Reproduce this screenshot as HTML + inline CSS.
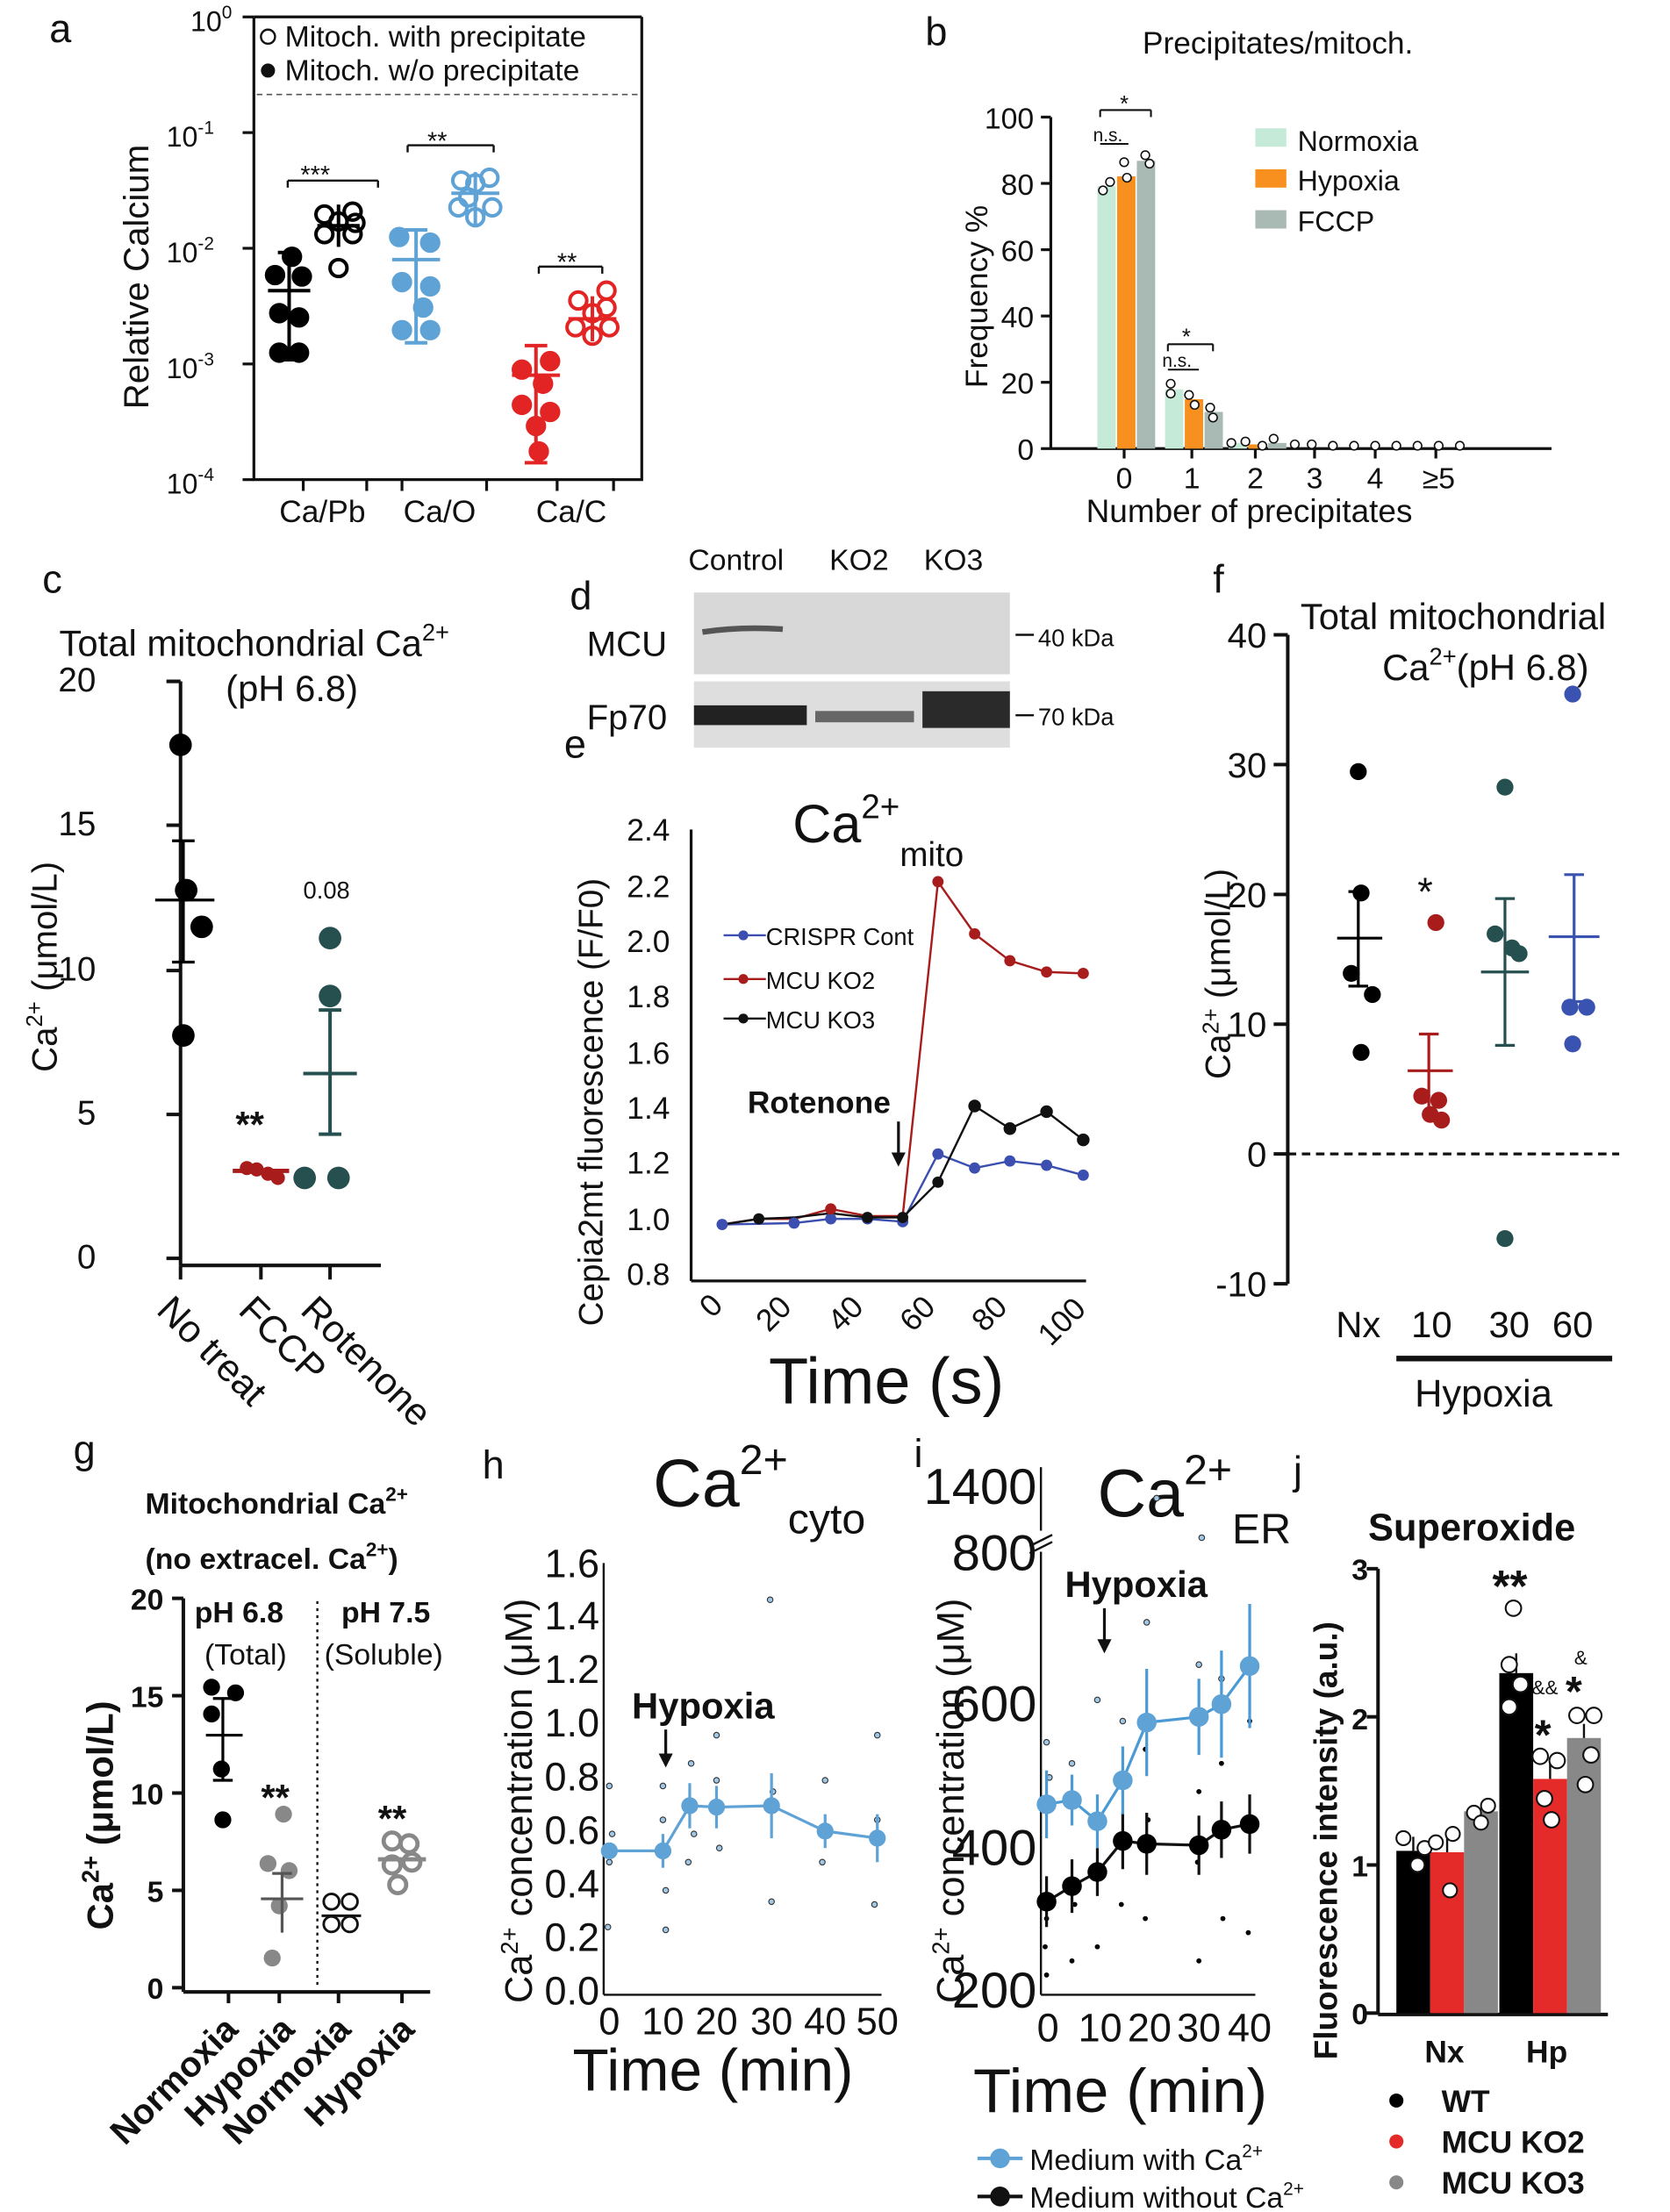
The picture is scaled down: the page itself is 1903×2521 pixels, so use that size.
<!DOCTYPE html>
<html><head><meta charset="utf-8"><style>
html,body{margin:0;padding:0;background:#fff}
svg{display:block}
text{font-family:"Liberation Sans",Arial,sans-serif;fill:#111}
</style></head><body>
<svg width="1903" height="2521" viewBox="0 0 1184 1568" preserveAspectRatio="none" xmlns="http://www.w3.org/2000/svg">
<rect width="1184" height="1568" fill="#fff"/>
<g stroke="#111" stroke-width="2" fill="none">
<!-- panel a -->
<polyline points="180,12 180,340 455,340 455,12"/>
<line x1="180" y1="12" x2="455" y2="12"/>
<line x1="180" y1="94" x2="172" y2="94"/><line x1="180" y1="176" x2="172" y2="176"/><line x1="180" y1="258" x2="172" y2="258"/><line x1="180" y1="340" x2="172" y2="340"/><line x1="180" y1="12" x2="172" y2="12"/>
<line x1="215" y1="340" x2="215" y2="348"/><line x1="260" y1="340" x2="260" y2="348"/><line x1="285" y1="340" x2="285" y2="348"/><line x1="345" y1="340" x2="345" y2="348"/><line x1="395" y1="340" x2="395" y2="348"/><line x1="435" y1="340" x2="435" y2="348"/>
</g>
<line x1="182" y1="67" x2="453" y2="67" stroke="#555" stroke-width="1" stroke-dasharray="4,3"/>
<text x="35" y="30" font-size="28">a</text>
<text x="135" y="22" font-size="20">10<tspan font-size="13" dy="-9">0</tspan></text>
<text x="118" y="104" font-size="20">10<tspan font-size="13" dy="-9">-1</tspan></text>
<text x="118" y="186" font-size="20">10<tspan font-size="13" dy="-9">-2</tspan></text>
<text x="118" y="268" font-size="20">10<tspan font-size="13" dy="-9">-3</tspan></text>
<text x="118" y="350" font-size="20">10<tspan font-size="13" dy="-9">-4</tspan></text>
<text transform="translate(105,290) rotate(-90)" font-size="25">Relative Calcium</text>
<circle cx="190" cy="26" r="5" fill="none" stroke="#111" stroke-width="1.5"/><text x="202" y="33" font-size="21">Mitoch. with precipitate</text>
<circle cx="190" cy="50" r="5" fill="#111"/><text x="202" y="57" font-size="21">Mitoch. w/o precipitate</text>
<text x="198" y="370" font-size="22">Ca/Pb</text><text x="286" y="370" font-size="22">Ca/O</text><text x="380" y="370" font-size="22">Ca/C</text>
<g stroke="#111" stroke-width="1.5"><line x1="204" y1="128" x2="268" y2="128"/><line x1="204" y1="128" x2="204" y2="133"/><line x1="268" y1="128" x2="268" y2="133"/>
<line x1="289" y1="103" x2="350" y2="103"/><line x1="289" y1="103" x2="289" y2="108"/><line x1="350" y1="103" x2="350" y2="108"/>
<line x1="382" y1="189" x2="427" y2="189"/><line x1="382" y1="189" x2="382" y2="194"/><line x1="427" y1="189" x2="427" y2="194"/></g>
<text x="213" y="130" font-size="18">***</text><text x="303" y="106" font-size="18">**</text><text x="395" y="192" font-size="18">**</text>
<!-- a data -->
<g stroke-width="2.5">
<g stroke="#000" fill="#000"><line x1="205" y1="179" x2="205" y2="255"/><line x1="190" y1="206" x2="220" y2="206"/><line x1="197" y1="179" x2="213" y2="179"/><line x1="197" y1="255" x2="213" y2="255"/>
<circle cx="207" cy="182" r="6"/><circle cx="195" cy="195" r="6"/><circle cx="214" cy="196" r="6"/><circle cx="198" cy="222" r="6"/><circle cx="212" cy="225" r="6"/><circle cx="198" cy="250" r="6"/><circle cx="212" cy="250" r="6"/></g>
<g stroke="#000" fill="none"><line x1="240" y1="145" x2="240" y2="175"/><line x1="225" y1="160" x2="255" y2="160"/>
<circle cx="230" cy="152" r="6"/><circle cx="250" cy="150" r="6"/><circle cx="240" cy="157" r="6"/><circle cx="230" cy="166" r="6"/><circle cx="250" cy="166" r="6"/><circle cx="240" cy="190" r="6"/><circle cx="252" cy="158" r="6"/></g>
<g stroke="#5fa3d6" fill="#5fa3d6"><line x1="295" y1="163" x2="295" y2="243"/><line x1="278" y1="184" x2="312" y2="184"/><line x1="287" y1="163" x2="303" y2="163"/><line x1="287" y1="243" x2="303" y2="243"/>
<circle cx="283" cy="168" r="6"/><circle cx="305" cy="172" r="6"/><circle cx="285" cy="200" r="6"/><circle cx="305" cy="203" r="6"/><circle cx="300" cy="218" r="6"/><circle cx="285" cy="234" r="6"/><circle cx="305" cy="234" r="6"/></g>
<g stroke="#5fa3d6" fill="none"><line x1="337" y1="122" x2="337" y2="160"/><line x1="320" y1="137" x2="354" y2="137"/>
<circle cx="327" cy="128" r="6"/><circle cx="347" cy="126" r="6"/><circle cx="337" cy="130" r="6"/><circle cx="325" cy="147" r="6"/><circle cx="349" cy="147" r="6"/><circle cx="337" cy="154" r="6"/><circle cx="332" cy="140" r="6"/></g>
<g stroke="#e32424" fill="#e32424"><line x1="380" y1="245" x2="380" y2="328"/><line x1="363" y1="266" x2="397" y2="266"/><line x1="372" y1="245" x2="388" y2="245"/><line x1="372" y1="328" x2="388" y2="328"/>
<circle cx="370" cy="262" r="6"/><circle cx="390" cy="256" r="6"/><circle cx="385" cy="272" r="6"/><circle cx="370" cy="287" r="6"/><circle cx="390" cy="292" r="6"/><circle cx="380" cy="302" r="6"/><circle cx="382" cy="320" r="6"/></g>
<g stroke="#e32424" fill="none"><line x1="420" y1="210" x2="420" y2="242"/><line x1="403" y1="226" x2="437" y2="226"/>
<circle cx="410" cy="213" r="6"/><circle cx="430" cy="206" r="6"/><circle cx="420" cy="222" r="6"/><circle cx="408" cy="232" r="6"/><circle cx="432" cy="232" r="6"/><circle cx="420" cy="238" r="6"/><circle cx="430" cy="218" r="6"/></g>
</g>
<!-- panel b -->
<text x="656" y="32" font-size="28">b</text>
<text x="810" y="38" font-size="22">Precipitates/mitoch.</text>
<g stroke="#111" stroke-width="2"><line x1="745" y1="83" x2="745" y2="318"/><line x1="745" y1="318" x2="1100" y2="318"/>
<line x1="745" y1="83" x2="738" y2="83"/><line x1="745" y1="130" x2="738" y2="130"/><line x1="745" y1="177" x2="738" y2="177"/><line x1="745" y1="224" x2="738" y2="224"/><line x1="745" y1="271" x2="738" y2="271"/><line x1="745" y1="318" x2="738" y2="318"/>
<line x1="797" y1="318" x2="797" y2="325"/><line x1="845" y1="318" x2="845" y2="325"/><line x1="890" y1="318" x2="890" y2="325"/><line x1="932" y1="318" x2="932" y2="325"/><line x1="975" y1="318" x2="975" y2="325"/><line x1="1018" y1="318" x2="1018" y2="325"/></g>
<g font-size="21" text-anchor="end"><text x="733" y="91">100</text><text x="733" y="138">80</text><text x="733" y="185">60</text><text x="733" y="232">40</text><text x="733" y="279">20</text><text x="733" y="326">0</text></g>
<text transform="translate(700,275) rotate(-90)" font-size="22">Frequency %</text>
<g font-size="21" text-anchor="middle"><text x="797" y="346">0</text><text x="845" y="346">1</text><text x="890" y="346">2</text><text x="932" y="346">3</text><text x="975" y="346">4</text><text x="1020" y="346">≥5</text></g>
<text x="770" y="370" font-size="23">Number of precipitates</text>
<rect x="778" y="132" width="13" height="186" fill="#c5ead7"/><rect x="792" y="125" width="13" height="193" fill="#f7901e"/><rect x="806" y="114" width="13" height="204" fill="#a9b9b3"/>
<rect x="826" y="276" width="13" height="42" fill="#c5ead7"/><rect x="840" y="283" width="13" height="35" fill="#f7901e"/><rect x="854" y="292" width="13" height="26" fill="#a9b9b3"/>
<rect x="871" y="314" width="13" height="4" fill="#c5ead7"/><rect x="885" y="315" width="13" height="3" fill="#f7901e"/><rect x="899" y="314" width="13" height="4" fill="#a9b9b3"/>
<g fill="#fff" stroke="#111" stroke-width="1"><circle cx="782" cy="135" r="3"/><circle cx="787" cy="129" r="3"/><circle cx="799" cy="126" r="3"/><circle cx="797" cy="115" r="3"/><circle cx="812" cy="110" r="3"/><circle cx="815" cy="116" r="3"/>
<circle cx="830" cy="279" r="3"/><circle cx="830" cy="272" r="3"/><circle cx="843" cy="280" r="3"/><circle cx="847" cy="287" r="3"/><circle cx="858" cy="289" r="3"/><circle cx="860" cy="296" r="3"/>
<circle cx="873" cy="314" r="3"/><circle cx="883" cy="313" r="3"/><circle cx="895" cy="316" r="3"/><circle cx="903" cy="311" r="3"/><circle cx="918" cy="315" r="3"/><circle cx="930" cy="315" r="3"/><circle cx="945" cy="316" r="3"/><circle cx="960" cy="316" r="3"/><circle cx="975" cy="316" r="3"/><circle cx="990" cy="316" r="3"/><circle cx="1005" cy="316" r="3"/><circle cx="1020" cy="316" r="3"/><circle cx="1035" cy="316" r="3"/></g>
<g stroke="#111" stroke-width="1.3"><line x1="780" y1="78" x2="816" y2="78"/><line x1="780" y1="78" x2="780" y2="83"/><line x1="816" y1="78" x2="816" y2="83"/>
<line x1="780" y1="102" x2="800" y2="102"/><line x1="828" y1="244" x2="860" y2="244"/><line x1="828" y1="244" x2="828" y2="249"/><line x1="860" y1="244" x2="860" y2="249"/><line x1="828" y1="262" x2="850" y2="262"/></g>
<text x="794" y="79" font-size="16">*</text><text x="838" y="244" font-size="16">*</text>
<text x="775" y="100" font-size="13">n.s.</text><text x="824" y="260" font-size="13">n.s.</text>
<rect x="890" y="91" width="22" height="13" fill="#c5ead7"/><text x="920" y="107" font-size="20">Normoxia</text>
<rect x="890" y="120" width="22" height="13" fill="#f7901e"/><text x="920" y="135" font-size="20">Hypoxia</text>
<rect x="890" y="149" width="22" height="13" fill="#a9b9b3"/><text x="920" y="164" font-size="20">FCCP</text>
<!-- panel c -->
<text x="30" y="420" font-size="28">c</text>
<text x="42" y="465" font-size="26">Total mitochondrial Ca<tspan font-size="17" dy="-11">2+</tspan></text>
<text x="160" y="497" font-size="26">(pH 6.8)</text>
<g stroke="#111" stroke-width="2.5"><line x1="128" y1="483" x2="128" y2="897"/><line x1="128" y1="897" x2="270" y2="897"/>
<line x1="128" y1="483" x2="118" y2="483"/><line x1="128" y1="585" x2="118" y2="585"/><line x1="128" y1="688" x2="118" y2="688"/><line x1="128" y1="790" x2="118" y2="790"/><line x1="128" y1="892" x2="118" y2="892"/>
<line x1="128" y1="897" x2="128" y2="907"/><line x1="185" y1="897" x2="185" y2="907"/><line x1="234" y1="897" x2="234" y2="907"/></g>
<g font-size="24" text-anchor="end"><text x="68" y="490">20</text><text x="68" y="592">15</text><text x="68" y="695">10</text><text x="68" y="797">5</text><text x="68" y="899">0</text></g>
<text transform="translate(40,760) rotate(-90)" font-size="25">Ca<tspan font-size="16" dy="-10">2+</tspan><tspan dy="10"> (μmol/L)</tspan></text>
<g font-size="27"><text transform="translate(110,930) rotate(45)">No treat</text><text transform="translate(168,930) rotate(45)">FCCP</text><text transform="translate(212,930) rotate(45)">Rotenone</text></g>
<g fill="#000"><circle cx="128" cy="528" r="8"/><circle cx="132" cy="631" r="8"/><circle cx="143" cy="657" r="8"/><circle cx="130" cy="734" r="8"/></g>
<g stroke="#000" stroke-width="2"><line x1="130" y1="596" x2="130" y2="682"/><line x1="110" y1="638" x2="152" y2="638"/><line x1="122" y1="596" x2="138" y2="596"/><line x1="122" y1="682" x2="138" y2="682"/></g>
<g fill="#a81c1c"><circle cx="175" cy="828" r="5"/><circle cx="182" cy="829" r="5"/><circle cx="190" cy="832" r="5"/><circle cx="197" cy="835" r="5"/></g>
<line x1="165" y1="830" x2="205" y2="830" stroke="#a81c1c" stroke-width="3"/>
<text x="167" y="806" font-size="26" font-weight="bold">**</text>
<text x="215" y="637" font-size="17">0.08</text>
<g fill="#26504f"><circle cx="234" cy="665" r="8"/><circle cx="234" cy="706" r="8"/><circle cx="216" cy="835" r="8"/><circle cx="240" cy="835" r="8"/></g>
<g stroke="#26504f" stroke-width="2.5"><line x1="234" y1="716" x2="234" y2="804"/><line x1="215" y1="761" x2="253" y2="761"/><line x1="226" y1="716" x2="242" y2="716"/><line x1="226" y1="804" x2="242" y2="804"/></g>
<!-- panel d -->
<text x="404" y="432" font-size="28">d</text>
<text x="488" y="404" font-size="21">Control</text><text x="588" y="404" font-size="21">KO2</text><text x="655" y="404" font-size="21">KO3</text>
<text x="416" y="465" font-size="25">MCU</text><text x="416" y="517" font-size="25">Fp70</text>
<rect x="492" y="420" width="224" height="58" fill="#d8d8d8"/>
<path d="M498 448 Q525 444 555 446" stroke="#555" stroke-width="4" fill="none"/>
<rect x="492" y="483" width="224" height="47" fill="#dedede"/>
<rect x="492" y="500" width="80" height="14" fill="#222"/><rect x="578" y="504" width="70" height="8" fill="#666"/><rect x="654" y="490" width="62" height="26" fill="#2a2a2a"/>
<line x1="720" y1="450" x2="733" y2="450" stroke="#111" stroke-width="1.5"/><text x="736" y="458" font-size="17">40 kDa</text>
<line x1="720" y1="507" x2="733" y2="507" stroke="#111" stroke-width="1.5"/><text x="736" y="514" font-size="17">70 kDa</text>
<!-- panel e -->
<text x="400" y="537" font-size="28">e</text>
<text x="562" y="597" font-size="38">Ca<tspan font-size="24" dy="-17">2+</tspan><tspan font-size="24" dy="34">mito</tspan></text>
<g stroke="#111" stroke-width="2"><line x1="490" y1="588" x2="490" y2="908"/><line x1="490" y1="908" x2="770" y2="908"/></g>
<g font-size="22" text-anchor="end"><text x="475" y="596">2.4</text><text x="475" y="636">2.2</text><text x="475" y="675">2.0</text><text x="475" y="714">1.8</text><text x="475" y="754">1.6</text><text x="475" y="793">1.4</text><text x="475" y="832">1.2</text><text x="475" y="872">1.0</text><text x="475" y="911">0.8</text></g>
<text transform="translate(427,940) rotate(-90)" font-size="24">Cepia2mt fluorescence (F/F0)</text>
<g font-size="22"><text transform="translate(505,935) rotate(-45)">0</text><text transform="translate(545,945) rotate(-45)">20</text><text transform="translate(596,945) rotate(-45)">40</text><text transform="translate(647,945) rotate(-45)">60</text><text transform="translate(698,945) rotate(-45)">80</text><text transform="translate(745,955) rotate(-45)">100</text></g>
<text x="545" y="995" font-size="46">Time (s)</text>
<text x="530" y="789" font-size="22" font-weight="bold">Rotenone</text>
<line x1="637" y1="795" x2="637" y2="825" stroke="#111" stroke-width="2"/><path d="M632 817 L637 827 L642 817" fill="#111"/>
<polyline points="512,868 563,867 589,864 615,864 640,866 665,818 691,828 716,823 742,826 768,833" fill="none" stroke="#3c4fb0" stroke-width="1.5"/>
<polyline points="512,868 538,864 563,864 589,857 615,862 640,862 665,625 691,662 716,681 742,689 768,690" fill="none" stroke="#a81c1c" stroke-width="1.5"/>
<polyline points="512,868 538,864 563,863 589,860 615,863 640,863 665,838 691,784 716,800 742,788 768,808" fill="none" stroke="#111" stroke-width="1.5"/>
<g fill="#3c4fb0"><circle cx="512" cy="868" r="4"/><circle cx="563" cy="867" r="4"/><circle cx="589" cy="864" r="4"/><circle cx="615" cy="864" r="4"/><circle cx="640" cy="866" r="4"/><circle cx="665" cy="818" r="4"/><circle cx="691" cy="828" r="4"/><circle cx="716" cy="823" r="4"/><circle cx="742" cy="826" r="4"/><circle cx="768" cy="833" r="4"/></g>
<g fill="#a81c1c"><circle cx="589" cy="857" r="4"/><circle cx="665" cy="625" r="4"/><circle cx="691" cy="662" r="4"/><circle cx="716" cy="681" r="4"/><circle cx="742" cy="689" r="4"/><circle cx="768" cy="690" r="4"/></g>
<g fill="#111"><circle cx="538" cy="864" r="4"/><circle cx="615" cy="863" r="4"/><circle cx="640" cy="863" r="4"/><circle cx="665" cy="838" r="4"/><circle cx="691" cy="784" r="4.5"/><circle cx="716" cy="800" r="4.5"/><circle cx="742" cy="788" r="4.5"/><circle cx="768" cy="808" r="4.5"/></g>
<line x1="513" y1="663" x2="543" y2="663" stroke="#3c4fb0" stroke-width="1.5"/><circle cx="527" cy="663" r="3.5" fill="#3c4fb0"/><text x="543" y="670" font-size="17">CRISPR Cont</text>
<line x1="513" y1="694" x2="543" y2="694" stroke="#a81c1c" stroke-width="1.5"/><circle cx="527" cy="694" r="3.5" fill="#a81c1c"/><text x="543" y="701" font-size="17">MCU KO2</text>
<line x1="513" y1="722" x2="543" y2="722" stroke="#111" stroke-width="1.5"/><circle cx="527" cy="722" r="3.5" fill="#111"/><text x="543" y="729" font-size="17">MCU KO3</text>
<!-- panel f -->
<text x="860" y="420" font-size="28">f</text>
<text x="922" y="446" font-size="26">Total mitochondrial</text>
<text x="980" y="482" font-size="26">Ca<tspan font-size="17" dy="-11">2+</tspan><tspan dy="11">(pH 6.8)</tspan></text>
<g stroke="#111" stroke-width="2.5"><line x1="913" y1="450" x2="913" y2="910"/>
<line x1="913" y1="450" x2="903" y2="450"/><line x1="913" y1="542" x2="903" y2="542"/><line x1="913" y1="634" x2="903" y2="634"/><line x1="913" y1="726" x2="903" y2="726"/><line x1="913" y1="818" x2="903" y2="818"/><line x1="913" y1="910" x2="903" y2="910"/>
<line x1="990" y1="963" x2="1143" y2="963" stroke-width="4"/></g>
<line x1="913" y1="818" x2="1148" y2="818" stroke="#111" stroke-width="2" stroke-dasharray="6,4"/>
<g font-size="25" text-anchor="end"><text x="898" y="459">40</text><text x="898" y="551">30</text><text x="898" y="643">20</text><text x="898" y="735">10</text><text x="898" y="827">0</text><text x="898" y="919">-10</text></g>
<text transform="translate(872,765) rotate(-90)" font-size="25">Ca<tspan font-size="16" dy="-8">2</tspan><tspan font-size="16">+</tspan><tspan dy="8"> (μmol/L)</tspan></text>
<g font-size="26" text-anchor="middle"><text x="963" y="948">Nx</text><text x="1015" y="948">10</text><text x="1070" y="948">30</text><text x="1115" y="948">60</text></g>
<text x="1003" y="997" font-size="27">Hypoxia</text>
<g fill="#000"><circle cx="963" cy="547" r="6"/><circle cx="965" cy="633" r="6"/><circle cx="958" cy="690" r="6"/><circle cx="973" cy="705" r="6"/><circle cx="965" cy="746" r="6"/></g>
<g stroke="#000" stroke-width="2"><line x1="963" y1="632" x2="963" y2="699"/><line x1="948" y1="665" x2="980" y2="665"/><line x1="956" y1="632" x2="970" y2="632"/><line x1="956" y1="699" x2="970" y2="699"/></g>
<g fill="#a81c1c"><circle cx="1018" cy="654" r="6"/><circle cx="1008" cy="777" r="6"/><circle cx="1020" cy="780" r="6"/><circle cx="1014" cy="790" r="6"/><circle cx="1022" cy="794" r="6"/></g>
<g stroke="#a81c1c" stroke-width="2"><line x1="1013" y1="733" x2="1013" y2="795"/><line x1="998" y1="759" x2="1030" y2="759"/><line x1="1006" y1="733" x2="1020" y2="733"/></g>
<text x="1005" y="642" font-size="28">*</text>
<g fill="#26504f"><circle cx="1067" cy="558" r="6"/><circle cx="1060" cy="662" r="6"/><circle cx="1072" cy="672" r="6"/><circle cx="1077" cy="676" r="6"/><circle cx="1067" cy="878" r="6"/></g>
<g stroke="#26504f" stroke-width="2"><line x1="1067" y1="637" x2="1067" y2="741"/><line x1="1050" y1="689" x2="1084" y2="689"/><line x1="1060" y1="637" x2="1074" y2="637"/><line x1="1060" y1="741" x2="1074" y2="741"/></g>
<g fill="#3b53b0"><circle cx="1115" cy="492" r="6"/><circle cx="1113" cy="714" r="6"/><circle cx="1125" cy="714" r="6"/><circle cx="1115" cy="740" r="6"/></g>
<g stroke="#3b53b0" stroke-width="2"><line x1="1116" y1="620" x2="1116" y2="710"/><line x1="1098" y1="664" x2="1134" y2="664"/><line x1="1109" y1="620" x2="1123" y2="620"/><line x1="1109" y1="710" x2="1123" y2="710"/></g>
<!-- panel g -->
<text x="52" y="1037" font-size="28">g</text>
<text x="103" y="1073" font-size="21" font-weight="bold">Mitochondrial Ca<tspan font-size="14" dy="-9">2+</tspan></text>
<text x="103" y="1112" font-size="21" font-weight="bold">(no extracel. Ca<tspan font-size="14" dy="-9">2+</tspan><tspan dy="9">)</tspan></text>
<text x="138" y="1150" font-size="21" font-weight="bold">pH 6.8</text><text x="242" y="1150" font-size="21" font-weight="bold">pH 7.5</text>
<text x="145" y="1180" font-size="21">(Total)</text><text x="230" y="1180" font-size="21">(Soluble)</text>
<g stroke="#111" stroke-width="2.5"><line x1="130" y1="1133" x2="130" y2="1412"/><line x1="130" y1="1412" x2="305" y2="1412"/>
<line x1="130" y1="1133" x2="122" y2="1133"/><line x1="130" y1="1202" x2="122" y2="1202"/><line x1="130" y1="1271" x2="122" y2="1271"/><line x1="130" y1="1340" x2="122" y2="1340"/><line x1="130" y1="1409" x2="122" y2="1409"/>
<line x1="162" y1="1412" x2="162" y2="1420"/><line x1="198" y1="1412" x2="198" y2="1420"/><line x1="240" y1="1412" x2="240" y2="1420"/><line x1="285" y1="1412" x2="285" y2="1420"/></g>
<line x1="225" y1="1135" x2="225" y2="1410" stroke="#111" stroke-width="1.5" stroke-dasharray="2,3"/>
<g font-size="21" font-weight="bold" text-anchor="end"><text x="116" y="1141">20</text><text x="116" y="1210">15</text><text x="116" y="1279">10</text><text x="116" y="1348">5</text><text x="116" y="1417">0</text></g>
<text transform="translate(80,1368) rotate(-90)" font-size="26" font-weight="bold">Ca<tspan font-size="17" dy="-10">2+</tspan><tspan dy="10"> (μmol/L)</tspan></text>
<g font-size="25" font-weight="bold" text-anchor="end"><text transform="translate(170,1440) rotate(-45)">Normoxia</text><text transform="translate(210,1440) rotate(-45)">Hypoxia</text><text transform="translate(250,1440) rotate(-45)">Normoxia</text><text transform="translate(295,1440) rotate(-45)">Hypoxia</text></g>
<g fill="#000"><circle cx="150" cy="1196" r="6"/><circle cx="167" cy="1200" r="6"/><circle cx="150" cy="1215" r="6"/><circle cx="157" cy="1254" r="6"/><circle cx="158" cy="1290" r="6"/></g>
<g stroke="#000" stroke-width="2"><line x1="158" y1="1204" x2="158" y2="1262"/><line x1="146" y1="1230" x2="172" y2="1230"/><line x1="151" y1="1204" x2="165" y2="1204"/><line x1="151" y1="1262" x2="165" y2="1262"/></g>
<g fill="#888"><circle cx="201" cy="1286" r="6"/><circle cx="190" cy="1321" r="6"/><circle cx="205" cy="1326" r="6"/><circle cx="198" cy="1351" r="6"/><circle cx="193" cy="1388" r="6"/></g>
<g stroke="#555" stroke-width="2"><line x1="200" y1="1328" x2="200" y2="1370"/><line x1="185" y1="1346" x2="215" y2="1346"/><line x1="193" y1="1328" x2="207" y2="1328"/></g>
<text x="185" y="1283" font-size="26" font-weight="bold">**</text>
<g fill="none" stroke="#111" stroke-width="1.8"><circle cx="235" cy="1348" r="5.5"/><circle cx="248" cy="1348" r="5.5"/><circle cx="235" cy="1364" r="5.5"/><circle cx="248" cy="1364" r="5.5"/><line x1="228" y1="1358" x2="256" y2="1358"/></g>
<g fill="none" stroke="#888" stroke-width="3"><circle cx="278" cy="1305" r="6"/><circle cx="290" cy="1307" r="6"/><circle cx="278" cy="1322" r="6"/><circle cx="292" cy="1320" r="6"/><circle cx="282" cy="1336" r="6"/><line x1="268" y1="1318" x2="302" y2="1318"/></g>
<text x="268" y="1298" font-size="26" font-weight="bold">**</text>
<!-- panel h -->
<text x="342" y="1048" font-size="28">h</text>
<text x="463" y="1068" font-size="48">Ca<tspan font-size="30" dy="-23">2+</tspan><tspan font-size="30" dy="42">cyto</tspan></text>
<g stroke="#111" stroke-width="1.5"><line x1="428" y1="1108" x2="428" y2="1414"/><line x1="428" y1="1414" x2="625" y2="1414"/></g>
<g font-size="28" text-anchor="end"><text x="425" y="1118">1.6</text><text x="425" y="1155">1.4</text><text x="425" y="1193">1.2</text><text x="425" y="1231">1.0</text><text x="425" y="1269">0.8</text><text x="425" y="1307">0.6</text><text x="425" y="1345">0.4</text><text x="425" y="1383">0.2</text><text x="425" y="1421">0.0</text></g>
<text transform="translate(377,1420) rotate(-90)" font-size="27">Ca<tspan font-size="17" dy="-10">2+</tspan><tspan dy="10"> concentration (μM)</tspan></text>
<g font-size="27" text-anchor="middle"><text x="432" y="1442">0</text><text x="470" y="1442">10</text><text x="508" y="1442">20</text><text x="547" y="1442">30</text><text x="585" y="1442">40</text><text x="622" y="1442">50</text></g>
<text x="406" y="1482" font-size="42">Time (min)</text>
<text x="448" y="1218" font-size="26" font-weight="bold">Hypoxia</text>
<line x1="472" y1="1226" x2="472" y2="1250" stroke="#111" stroke-width="2"/><path d="M467 1243 L472 1253 L477 1243" fill="#111"/>
<g fill="#9fc7e6" stroke="#333" stroke-width="0.7"><circle cx="432" cy="1266" r="2"/><circle cx="434" cy="1300" r="2"/><circle cx="432" cy="1320" r="2"/><circle cx="431" cy="1366" r="2"/><circle cx="470" cy="1266" r="2"/><circle cx="470" cy="1290" r="2"/><circle cx="472" cy="1340" r="2"/><circle cx="472" cy="1368" r="2"/><circle cx="490" cy="1250" r="2"/><circle cx="492" cy="1300" r="2"/><circle cx="488" cy="1320" r="2"/><circle cx="508" cy="1230" r="2"/><circle cx="508" cy="1262" r="2"/><circle cx="510" cy="1310" r="2"/><circle cx="546" cy="1134" r="2"/><circle cx="548" cy="1270" r="2"/><circle cx="547" cy="1348" r="2"/><circle cx="585" cy="1262" r="2"/><circle cx="583" cy="1320" r="2"/><circle cx="622" cy="1230" r="2"/><circle cx="622" cy="1290" r="2"/><circle cx="620" cy="1350" r="2"/></g>
<g stroke="#5fa3d6" stroke-width="2" fill="none"><polyline points="432,1312 470,1312 489,1280 508,1281 547,1280 585,1298 622,1303"/>
<line x1="470" y1="1300" x2="470" y2="1324"/><line x1="489" y1="1264" x2="489" y2="1296"/><line x1="508" y1="1266" x2="508" y2="1296"/><line x1="547" y1="1257" x2="547" y2="1303"/><line x1="585" y1="1286" x2="585" y2="1310"/><line x1="622" y1="1286" x2="622" y2="1320"/></g>
<g fill="#5fa3d6"><circle cx="432" cy="1312" r="6"/><circle cx="470" cy="1312" r="6"/><circle cx="489" cy="1280" r="6"/><circle cx="508" cy="1281" r="6"/><circle cx="547" cy="1280" r="6"/><circle cx="585" cy="1298" r="6"/><circle cx="622" cy="1303" r="6"/></g>
<!-- panel i -->
<text x="648" y="1040" font-size="28">i</text>
<text x="778" y="1075" font-size="48">Ca<tspan font-size="30" dy="-23">2+</tspan><tspan font-size="30" dy="42">ER</tspan></text>
<g stroke="#111" stroke-width="1.5"><line x1="738" y1="1040" x2="738" y2="1085"/><line x1="738" y1="1100" x2="738" y2="1414"/><line x1="738" y1="1414" x2="890" y2="1414"/></g>
<g stroke="#111" stroke-width="1.5"><line x1="730" y1="1096" x2="746" y2="1088"/><line x1="730" y1="1101" x2="746" y2="1093"/></g>
<g font-size="36" text-anchor="end"><text x="735" y="1066">1400</text><text x="735" y="1113">800</text><text x="735" y="1220">600</text><text x="735" y="1322">400</text><text x="735" y="1423">200</text></g>
<text transform="translate(683,1420) rotate(-90)" font-size="27">Ca<tspan font-size="17" dy="-10">2+</tspan><tspan dy="10"> concentration (μM)</tspan></text>
<g font-size="28" text-anchor="middle"><text x="743" y="1447">0</text><text x="780" y="1447">10</text><text x="815" y="1447">20</text><text x="850" y="1447">30</text><text x="886" y="1447">40</text></g>
<text x="690" y="1497" font-size="44">Time (min)</text>
<text x="755" y="1132" font-size="26" font-weight="bold">Hypoxia</text>
<line x1="783" y1="1140" x2="783" y2="1170" stroke="#111" stroke-width="2"/><path d="M778 1162 L783 1172 L788 1162" fill="#111"/>
<g fill="#000"><circle cx="742" cy="1360" r="1.8"/><circle cx="741" cy="1380" r="1.8"/><circle cx="742" cy="1400" r="1.8"/><circle cx="762" cy="1350" r="1.8"/><circle cx="760" cy="1390" r="1.8"/><circle cx="778" cy="1330" r="1.8"/><circle cx="778" cy="1380" r="1.8"/><circle cx="795" cy="1260" r="1.8"/><circle cx="796" cy="1300" r="1.8"/><circle cx="795" cy="1350" r="1.8"/><circle cx="812" cy="1240" r="1.8"/><circle cx="814" cy="1290" r="1.8"/><circle cx="812" cy="1360" r="1.8"/><circle cx="850" cy="1270" r="1.8"/><circle cx="849" cy="1320" r="1.8"/><circle cx="850" cy="1390" r="1.8"/><circle cx="866" cy="1250" r="1.8"/><circle cx="866" cy="1300" r="1.8"/><circle cx="867" cy="1360" r="1.8"/><circle cx="886" cy="1220" r="1.8"/><circle cx="886" cy="1290" r="1.8"/><circle cx="885" cy="1370" r="1.8"/></g>
<g fill="#9fc7e6" stroke="#333" stroke-width="0.7"><circle cx="742" cy="1235" r="2"/><circle cx="744" cy="1260" r="2"/><circle cx="760" cy="1250" r="2"/><circle cx="778" cy="1205" r="2"/><circle cx="796" cy="1220" r="2"/><circle cx="813" cy="1150" r="2"/><circle cx="850" cy="1180" r="2"/><circle cx="866" cy="1190" r="2"/><circle cx="820" cy="1062" r="2"/><circle cx="852" cy="1090" r="2"/></g>
<g stroke="#111" stroke-width="2" fill="none"><polyline points="742,1348 760,1337 778,1327 796,1305 813,1307 850,1308 866,1297 886,1293"/>
<line x1="742" y1="1330" x2="742" y2="1366"/><line x1="760" y1="1318" x2="760" y2="1356"/><line x1="778" y1="1310" x2="778" y2="1344"/><line x1="796" y1="1285" x2="796" y2="1325"/><line x1="813" y1="1285" x2="813" y2="1329"/><line x1="850" y1="1287" x2="850" y2="1329"/><line x1="866" y1="1277" x2="866" y2="1317"/><line x1="886" y1="1272" x2="886" y2="1314"/></g>
<g stroke="#4a9ad6" stroke-width="2" fill="none"><polyline points="742,1279 760,1276 778,1291 796,1262 813,1221 850,1217 866,1208 886,1181"/>
<line x1="742" y1="1255" x2="742" y2="1303"/><line x1="760" y1="1258" x2="760" y2="1294"/><line x1="778" y1="1272" x2="778" y2="1310"/><line x1="796" y1="1238" x2="796" y2="1286"/><line x1="813" y1="1183" x2="813" y2="1259"/><line x1="850" y1="1190" x2="850" y2="1244"/><line x1="866" y1="1170" x2="866" y2="1246"/><line x1="886" y1="1137" x2="886" y2="1225"/></g>
<g fill="#000"><circle cx="742" cy="1348" r="7"/><circle cx="760" cy="1337" r="7"/><circle cx="778" cy="1327" r="7"/><circle cx="796" cy="1305" r="7"/><circle cx="813" cy="1307" r="7"/><circle cx="850" cy="1308" r="7"/><circle cx="866" cy="1297" r="7"/><circle cx="886" cy="1293" r="7"/></g>
<g fill="#5fa3d6"><circle cx="742" cy="1279" r="7"/><circle cx="760" cy="1276" r="7"/><circle cx="778" cy="1291" r="7"/><circle cx="796" cy="1262" r="7"/><circle cx="813" cy="1221" r="7"/><circle cx="850" cy="1217" r="7"/><circle cx="866" cy="1208" r="7"/><circle cx="886" cy="1181" r="7"/></g>
<line x1="693" y1="1530" x2="725" y2="1530" stroke="#5fa3d6" stroke-width="2.5"/><circle cx="709" cy="1530" r="7" fill="#5fa3d6"/><text x="730" y="1538" font-size="21">Medium with Ca<tspan font-size="13" dy="-9">2+</tspan></text>
<line x1="693" y1="1557" x2="725" y2="1557" stroke="#111" stroke-width="2.5"/><circle cx="709" cy="1557" r="7" fill="#111"/><text x="730" y="1565" font-size="21">Medium without Ca<tspan font-size="13" dy="-9">2+</tspan></text>
<!-- panel j -->
<text x="917" y="1052" font-size="28">j</text>
<text x="970" y="1092" font-size="27" font-weight="bold">Superoxide</text>
<g stroke="#111" stroke-width="2.5"><line x1="977" y1="1112" x2="977" y2="1428"/><line x1="977" y1="1428" x2="1140" y2="1428"/>
<line x1="977" y1="1112" x2="969" y2="1112"/><line x1="977" y1="1217" x2="969" y2="1217"/><line x1="977" y1="1322" x2="969" y2="1322"/><line x1="977" y1="1427" x2="969" y2="1427"/></g>
<g font-size="21" font-weight="bold" text-anchor="end"><text x="970" y="1120">3</text><text x="970" y="1226">2</text><text x="970" y="1330">1</text><text x="970" y="1435">0</text></g>
<text transform="translate(948,1460) rotate(-90)" font-size="23" font-weight="bold">Fluorescence intensity (a.u.)</text>
<text x="1010" y="1462" font-size="22" font-weight="bold">Nx</text><text x="1082" y="1462" font-size="22" font-weight="bold">Hp</text>
<rect x="990" y="1312" width="24" height="115" fill="#000"/><rect x="1014" y="1313" width="24" height="114" fill="#e52a2a"/><rect x="1038" y="1284" width="24" height="143" fill="#888"/>
<rect x="1063" y="1186" width="24" height="241" fill="#000"/><rect x="1087" y="1261" width="24" height="166" fill="#e52a2a"/><rect x="1111" y="1232" width="24" height="195" fill="#888"/>
<g stroke="#111" stroke-width="1.5"><line x1="1002" y1="1302" x2="1002" y2="1312"/><line x1="1026" y1="1298" x2="1026" y2="1313"/><line x1="1075" y1="1172" x2="1075" y2="1186"/><line x1="1099" y1="1248" x2="1099" y2="1261"/><line x1="1123" y1="1222" x2="1123" y2="1232"/></g>
<g fill="#fff" stroke="#111" stroke-width="1.3"><circle cx="995" cy="1303" r="5"/><circle cx="1005" cy="1322" r="5"/><circle cx="1010" cy="1310" r="5"/><circle cx="1018" cy="1306" r="5"/><circle cx="1030" cy="1300" r="5"/><circle cx="1028" cy="1340" r="5"/><circle cx="1045" cy="1285" r="5"/><circle cx="1055" cy="1280" r="5"/><circle cx="1050" cy="1292" r="5"/>
<circle cx="1073" cy="1140" r="5.5"/><circle cx="1070" cy="1180" r="5.5"/><circle cx="1078" cy="1194" r="5.5"/><circle cx="1070" cy="1210" r="5.5"/><circle cx="1092" cy="1245" r="5.5"/><circle cx="1104" cy="1248" r="5.5"/><circle cx="1095" cy="1275" r="5.5"/><circle cx="1100" cy="1290" r="5.5"/><circle cx="1118" cy="1216" r="5.5"/><circle cx="1130" cy="1216" r="5.5"/><circle cx="1128" cy="1244" r="5.5"/><circle cx="1124" cy="1265" r="5.5"/></g>
<text x="1058" y="1135" font-size="32" font-weight="bold">**</text>
<text x="1088" y="1240" font-size="30" font-weight="bold">*</text><text x="1086" y="1201" font-size="14">&amp;&amp;</text>
<text x="1110" y="1209" font-size="30" font-weight="bold">*</text><text x="1116" y="1180" font-size="14">&amp;</text>
<circle cx="990" cy="1489" r="5" fill="#000"/><text x="1022" y="1497" font-size="22" font-weight="bold">WT</text>
<circle cx="990" cy="1518" r="5" fill="#e52a2a"/><text x="1022" y="1526" font-size="22" font-weight="bold">MCU KO2</text>
<circle cx="990" cy="1547" r="5" fill="#888"/><text x="1022" y="1555" font-size="22" font-weight="bold">MCU KO3</text>
</svg>
</body></html>
